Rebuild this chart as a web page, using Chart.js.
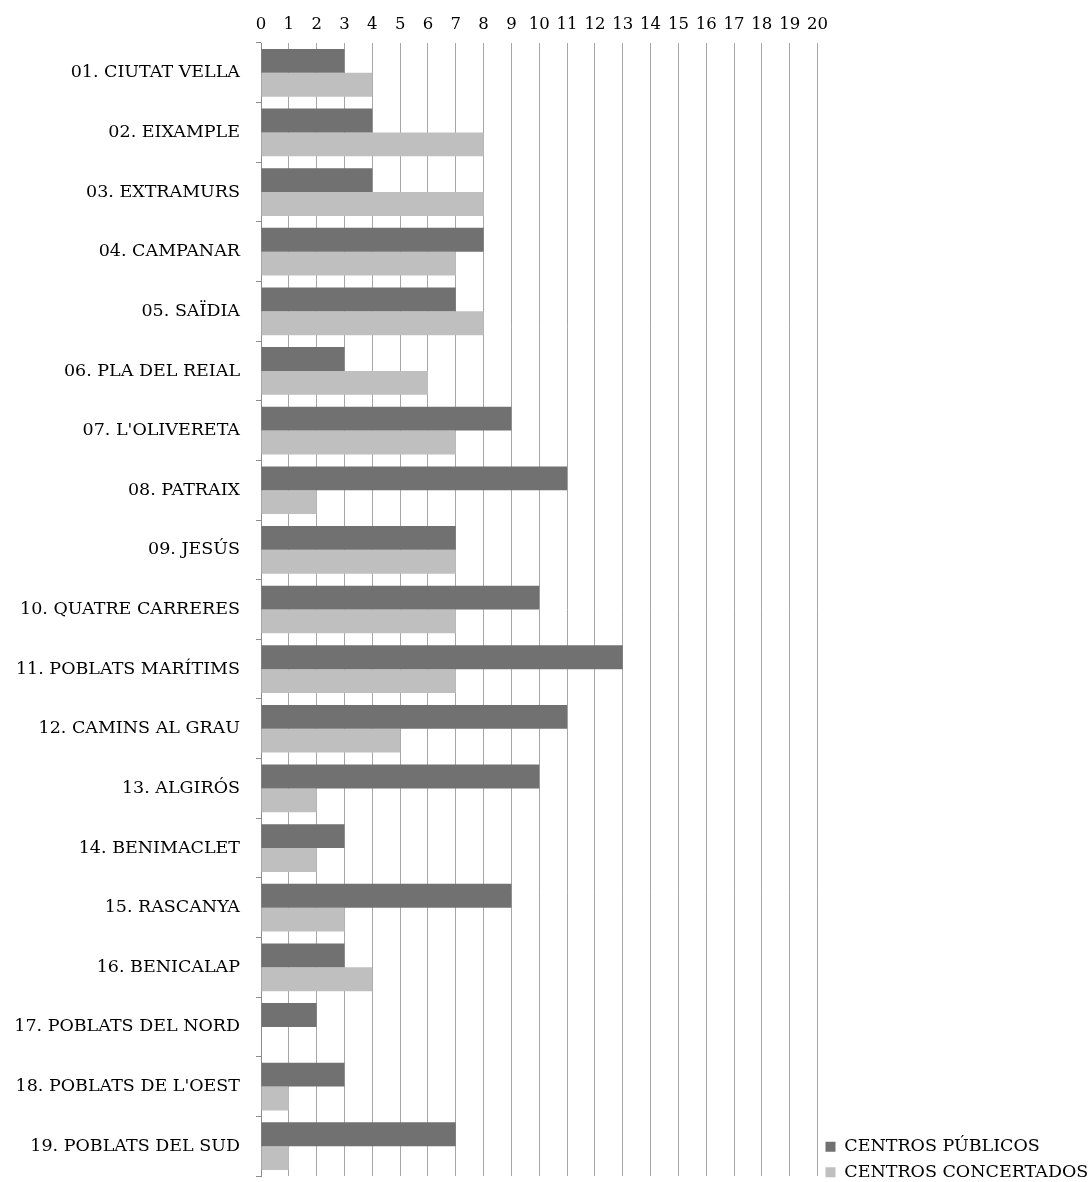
<!DOCTYPE html>
<html>
<head>
<meta charset="utf-8">
<script src="https://cdn.jsdelivr.net/npm/chart.js@4.4.0/dist/chart.umd.min.js"></script>
<style>
  html, body { margin: 0; padding: 0; background: #fff; }
  #wrap { width: 1090px; height: 1182px; position: relative; }
</style>
</head>
<body>
<div id="wrap"><canvas id="c" width="1090" height="1182"></canvas></div>
<script>
const categories = [
  "01. CIUTAT VELLA", "02. EIXAMPLE", "03. EXTRAMURS", "04. CAMPANAR", "05. SAÏDIA",
  "06. PLA DEL REIAL", "07. L'OLIVERETA", "08. PATRAIX", "09. JESÚS", "10. QUATRE CARRERES",
  "11. POBLATS MARÍTIMS", "12. CAMINS AL GRAU", "13. ALGIRÓS", "14. BENIMACLET", "15. RASCANYA",
  "16. BENICALAP", "17. POBLATS DEL NORD", "18. POBLATS DE L'OEST", "19. POBLATS DEL SUD"
];
const seriesNames = ["CENTROS PÚBLICOS", "CENTROS CONCERTADOS"];
const publicos    = [3, 4, 4, 8, 7, 3, 9, 11, 7, 10, 13, 11, 10, 3, 9, 3, 2, 3, 7];
const concertados = [4, 8, 8, 7, 8, 6, 7, 2, 7, 7, 7, 5, 2, 2, 3, 4, 0, 1, 1];
const xMin = 0, xMax = 20, xStep = 1;

const FONT = "'DejaVu Serif', serif";

new Chart(document.getElementById('c'), {
  type: 'bar',
  data: {
    labels: categories,
    datasets: [
      { label: seriesNames[0], data: publicos, backgroundColor: '#717171', borderWidth: 0 },
      { label: seriesNames[1], data: concertados, backgroundColor: '#bfbfbf', borderWidth: 0 }
    ]
  },
  options: {
    indexAxis: 'y',
    responsive: false,
    animation: false,
    devicePixelRatio: 1,
    layout: { padding: { top: 8, bottom: -7, left: 0, right: 0 } },
    datasets: { bar: { categoryPercentage: 0.8, barPercentage: 1.0 } },
    scales: {
      x: {
        position: 'top',
        min: xMin, max: xMax,
        ticks: { stepSize: xStep, color: '#000', font: { family: FONT, size: 16.5 }, padding: 8 },
        grid: { color: '#a6a6a6', lineWidth: 1, drawTicks: false },
        border: { display: false },
        afterFit: (s) => { s.height = 35; }
      },
      y: {
        ticks: { color: '#000', font: { family: FONT, size: 17.5 }, padding: 16, autoSkip: false },
        grid: { drawOnChartArea: false, drawTicks: true, tickLength: 5, tickColor: '#8c8c8c', offset: true },
        border: { display: true, color: '#8c8c8c', width: 1 },
        afterFit: (s) => { s.width = 261; s.paddingTop = 0; s.paddingBottom = 6; }
      }
    },
    plugins: {
      legend: {
        position: 'right',
        align: 'end',
        labels: {
          color: '#000',
          font: { family: FONT, size: 17.5 },
          boxWidth: 10, boxHeight: 10, padding: 8
        }
      },
      tooltip: { enabled: false }
    }
  }
});
</script>
</body>
</html>
